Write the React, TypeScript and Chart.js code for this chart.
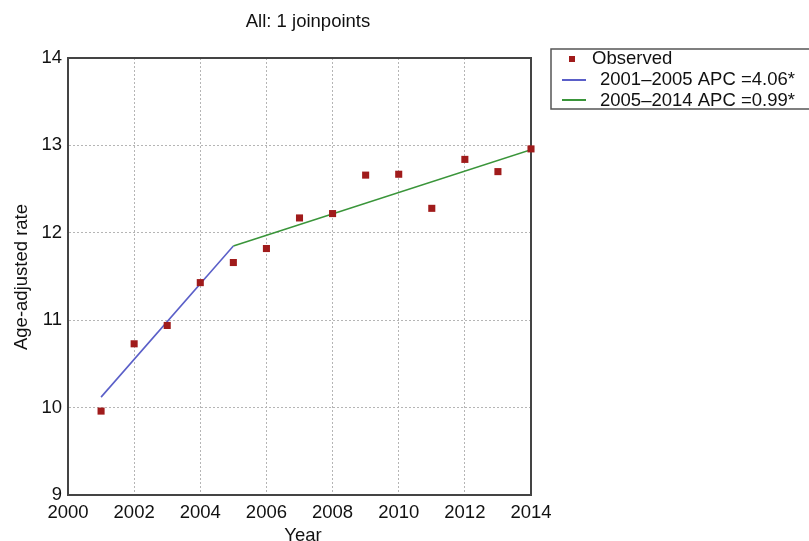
import React, { useEffect, useRef } from "react";
import { Chart, registerables } from "chart.js";

Chart.register(...registerables);

const titleText = "All: 1 joinpoints";
const xTitle = "Year";
const yTitle = "Age-adjusted rate";

const years = [2001, 2002, 2003, 2004, 2005, 2006, 2007, 2008, 2009, 2010, 2011, 2012, 2013, 2014];
const observed = [9.96, 10.73, 10.94, 11.43, 11.66, 11.82, 12.17, 12.22, 12.66, 12.67, 12.28, 12.84, 12.7, 12.96];

const seg1Years = [2001, 2005];
const seg1Fit = [10.12, 11.85];
const seg2Years = [2005, 2014];
const seg2Fit = [11.85, 12.95];

const legendLabels = ["Observed", "2001\u20132005 APC =4.06*", "2005\u20132014 APC =0.99*"];

const xMin = 2000;
const xMax = 2014;
const xStep = 2;
const yMin = 9;
const yMax = 14;
const yStep = 1;

const RED = "#a01b1b";
const BLUE = "#5a5fc8";
const GREEN = "#3a953a";
const FONT = "'Liberation Sans', Arial, sans-serif";

const overlay = {
  id: "overlay",
  beforeDatasetsDraw(chart: any) {
    const ctx = chart.ctx;
    const a = chart.chartArea;
    ctx.save();
    ctx.strokeStyle = "#444";
    ctx.lineWidth = 2;
    ctx.strokeRect(a.left, a.top, a.right - a.left, a.bottom - a.top);
    ctx.restore();
  },
  afterDraw(chart: any) {
    const ctx = chart.ctx;
    ctx.save();
    ctx.fillStyle = "#111";
    ctx.font = `18.5px ${FONT}`;
    ctx.textBaseline = "alphabetic";
    ctx.textAlign = "center";
    ctx.fillText(titleText, 308, 27);
    ctx.fillText(xTitle, 303, 541);

    ctx.save();
    ctx.translate(27, 277);
    ctx.rotate(-Math.PI / 2);
    ctx.fillText(yTitle, 0, 0);
    ctx.restore();

    // legend
    ctx.strokeStyle = "#555";
    ctx.lineWidth = 1.5;
    ctx.strokeRect(551, 49, 280, 60);
    ctx.textAlign = "left";
    ctx.fillStyle = RED;
    ctx.fillRect(569, 56, 6, 6);
    ctx.lineWidth = 2;
    ctx.strokeStyle = BLUE;
    ctx.beginPath();
    ctx.moveTo(562, 80);
    ctx.lineTo(586, 80);
    ctx.stroke();
    ctx.strokeStyle = GREEN;
    ctx.beginPath();
    ctx.moveTo(562, 100);
    ctx.lineTo(586, 100);
    ctx.stroke();
    ctx.fillStyle = "#111";
    ctx.fillText(legendLabels[0], 592, 64);
    ctx.fillText(legendLabels[1], 600, 85);
    ctx.fillText(legendLabels[2], 600, 106);
    ctx.restore();
  },
};

export default function App() {
  const ref = useRef<HTMLCanvasElement>(null);
  useEffect(() => {
    if (!ref.current) return;
    const tickFont = { family: FONT, size: 18.5 };
    const chart = new Chart(ref.current, {
      type: "scatter",
      data: {
        datasets: [
          {
            label: legendLabels[0],
            data: years.map((x, i) => ({ x, y: observed[i] })),
            showLine: false,
            pointStyle: "rect",
            pointRadius: 5,
            backgroundColor: RED,
            borderColor: RED,
            borderWidth: 0,
            clip: false,
          },
          {
            label: legendLabels[1],
            data: seg1Years.map((x, i) => ({ x, y: seg1Fit[i] })),
            showLine: true,
            pointRadius: 0,
            borderColor: BLUE,
            borderWidth: 1.6,
          },
          {
            label: legendLabels[2],
            data: seg2Years.map((x, i) => ({ x, y: seg2Fit[i] })),
            showLine: true,
            pointRadius: 0,
            borderColor: GREEN,
            borderWidth: 1.6,
          },
        ],
      },
      options: {
        animation: false,
        responsive: false,
        devicePixelRatio: 1,
        layout: { padding: { top: 58, right: 278, bottom: 0, left: 0 } },
        plugins: { legend: { display: false }, tooltip: { enabled: false }, title: { display: false } },
        scales: {
          x: {
            type: "linear",
            min: xMin,
            max: xMax,
            afterFit: (s: any) => {
              s.height = 46;
            },
            ticks: {
              stepSize: xStep,
              color: "#111",
              font: tickFont,
              padding: 7,
              maxRotation: 0,
              callback: (v: any) => String(v),
            },
            grid: { color: "#b5b5b5", lineWidth: 1, drawTicks: false },
            border: { display: true, color: "#444", width: 2, dash: [2, 2] },
          },
          y: {
            min: yMin,
            max: yMax,
            afterFit: (s: any) => {
              s.width = 68;
            },
            ticks: {
              stepSize: yStep,
              color: "#111",
              font: tickFont,
              padding: 6,
              callback: (v: any) => String(v),
            },
            grid: { color: "#b5b5b5", lineWidth: 1, drawTicks: false },
            border: { display: true, color: "#444", width: 2, dash: [2, 2] },
          },
        },
      },
      plugins: [overlay],
    });
    return () => chart.destroy();
  }, []);
  return (
    <div style={{ position: "absolute", left: 0, top: 0, width: 809, height: 541, background: "#fff" }}>
      <canvas ref={ref} width={809} height={541} style={{ width: 809, height: 541, display: "block" }} />
    </div>
  );
}
